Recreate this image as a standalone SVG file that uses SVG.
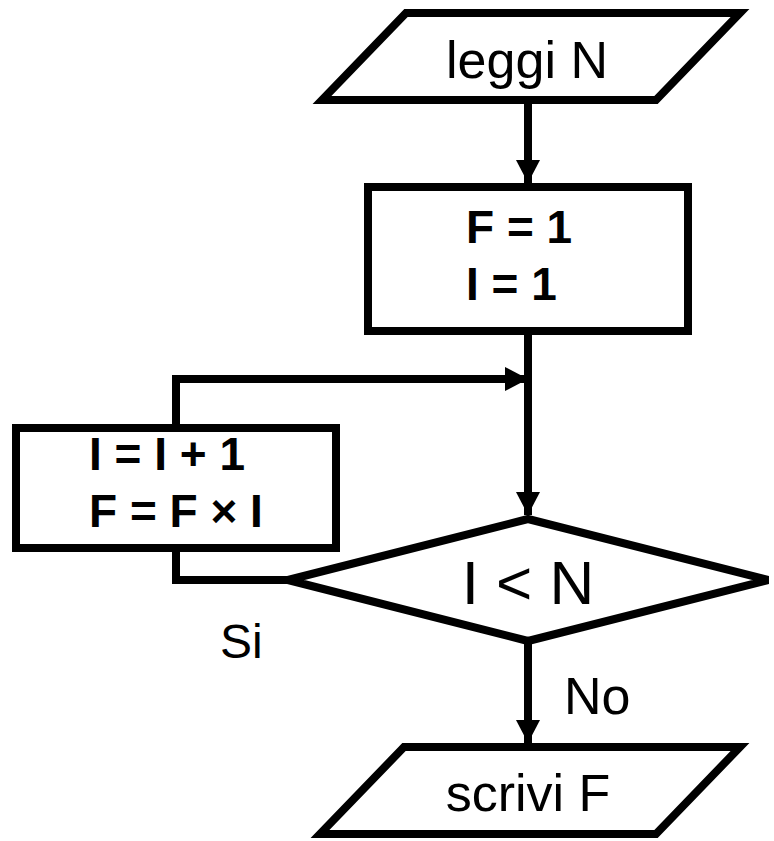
<svg xmlns="http://www.w3.org/2000/svg" width="774" height="841" viewBox="0 0 774 841">
<style>
.shape{fill:#fff;stroke:#000;stroke-width:8;stroke-linejoin:miter}
.conn{fill:none;stroke:#000;stroke-width:8;stroke-linejoin:miter;stroke-linecap:butt}
.t{font-family:"Liberation Sans",Arial,sans-serif;fill:#000}
.b{font-weight:bold;font-size:46px}
</style>
<defs>
<marker id="arr" markerUnits="userSpaceOnUse" markerWidth="24" markerHeight="26" refX="23" refY="12" orient="auto">
<path d="M0,0 L23,12 L0,24 Z" fill="#000"/>
</marker>
</defs>
<rect width="774" height="841" fill="#fff"/>
<g id="connectors">
<line class="conn" x1="528" y1="100" x2="528" y2="183" marker-end="url(#arr)"/>
<line class="conn" x1="528" y1="331" x2="528" y2="515" marker-end="url(#arr)"/>
<polyline class="conn" points="176,428 176,379 528,379" marker-end="url(#arr)"/>
<polyline class="conn" points="176,548 176,580 288,580"/>
<line class="conn" x1="528" y1="641" x2="528" y2="743" marker-end="url(#arr)"/>
</g>
<g id="read">
<polygon class="shape" points="406,13 740,13 656,100 322,100"/>
<text class="t" x="527" y="78" font-size="52" text-anchor="middle">leggi N</text>
</g>
<g id="init">
<rect class="shape" x="368" y="187" width="320" height="144"/>
<text class="t b" x="466" y="243">F = 1</text>
<text class="t b" x="466" y="300">I = 1</text>
</g>
<g id="update">
<rect class="shape" x="16" y="428" width="320" height="120"/>
<text class="t b" x="89" y="470">I = I + 1</text>
<text class="t b" x="89" y="527">F = F × I</text>
</g>
<g id="decision">
<polygon class="shape" points="528,519 768,580 528,641 288,580"/>
<text class="t" x="528" y="604" font-size="62" text-anchor="middle">I &lt; N</text>
</g>
<g id="labels">
<text class="t" x="220" y="658" font-size="48">Si</text>
<text class="t" x="564" y="714" font-size="52">No</text>
</g>
<g id="write">
<polygon class="shape" points="404,747 740,747 656,834 320,834"/>
<text class="t" x="528" y="811" font-size="52" text-anchor="middle">scrivi F</text>
</g>
</svg>
